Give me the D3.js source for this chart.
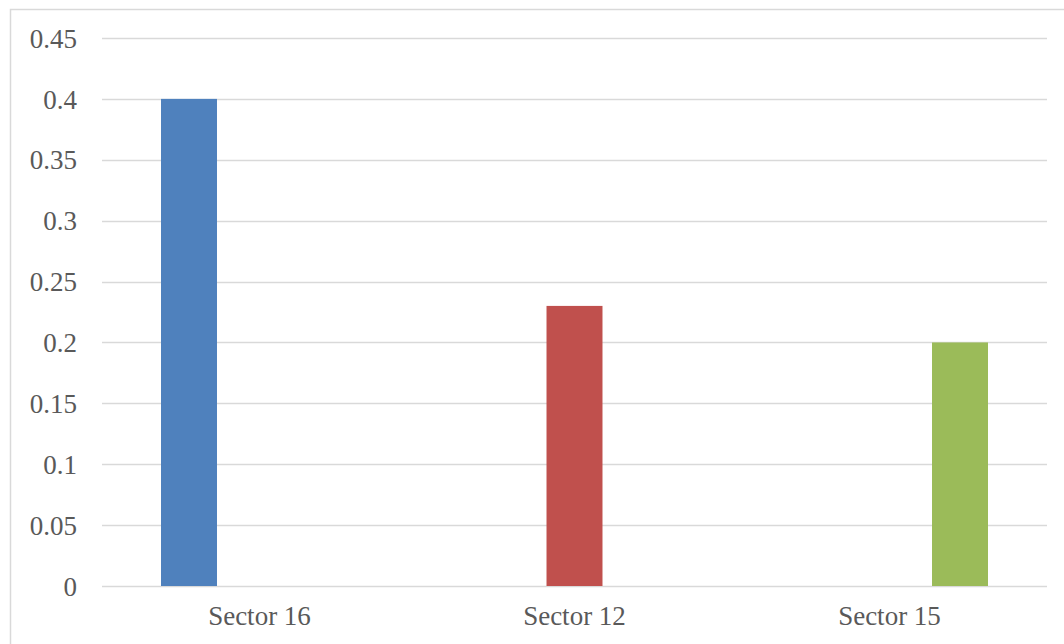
<!DOCTYPE html>
<html>
<head>
<meta charset="utf-8">
<script src="https://cdn.jsdelivr.net/npm/d3@7"></script>
<style>
  html, body { margin: 0; padding: 0; background: #fff; }
  svg { display: block; }
</style>
</head>
<body>
<svg id="chart" width="1064" height="644"></svg>
<script>
const categories = ["Sector 16", "Sector 12", "Sector 15"];
const seriesNames = ["Series A", "Series B", "Series C"];
const seriesA = [0.4, 0, 0];
const seriesB = [0, 0.23, 0];
const seriesC = [0, 0, 0.2];
const seriesColors = ["#4F81BD", "#C0504D", "#9BBB59"];
const yTicks = [0, 0.05, 0.1, 0.15, 0.2, 0.25, 0.3, 0.35, 0.4, 0.45];

const seriesValues = [seriesA, seriesB, seriesC];

const svg = d3.select("#chart");
const W = 1064, H = 644;
const plot = { left: 102, right: 1047, top: 38, bottom: 586 };

// chart border
svg.append("rect")
  .attr("x", 10.5).attr("y", 9.5)
  .attr("width", W + 20).attr("height", H + 20)
  .attr("fill", "#fff").attr("stroke", "#d9d9d9").attr("stroke-width", 1.5);

const y = d3.scaleLinear().domain([0, 0.45]).range([plot.bottom, plot.top]);
const x0 = d3.scaleBand().domain(categories).range([plot.left, plot.right]).padding(0);
const x1 = d3.scaleBand().domain(seriesNames).range([0, x0.bandwidth()])
  .paddingInner(0.206).paddingOuter(0.837);

// gridlines
svg.append("g").selectAll("line").data(yTicks).join("line")
  .attr("x1", plot.left).attr("x2", plot.right)
  .attr("y1", d => Math.round(y(d)) + 0.5).attr("y2", d => Math.round(y(d)) + 0.5)
  .attr("stroke", "#d9d9d9").attr("stroke-width", 1.5);

// y axis labels
const yAxis = d3.axisLeft(y).tickValues(yTicks).tickSize(0).tickPadding(0)
  .tickFormat(d => d3.format("~g")(d));
const gy = svg.append("g").attr("transform", `translate(77,0)`).call(yAxis);
gy.select(".domain").remove();
gy.selectAll("text")
  .attr("font-family", "'Liberation Serif', 'Times New Roman', serif")
  .attr("font-size", 27).attr("fill", "#595959").attr("dy", "0.34em");

// bars
const rows = categories.map((c, i) => ({
  cat: c,
  vals: seriesNames.map((s, j) => ({ s, j, v: seriesValues[j][i] }))
}));
svg.append("g").selectAll("g").data(rows).join("g")
  .attr("transform", d => `translate(${x0(d.cat)},0)`)
  .selectAll("rect").data(d => d.vals.filter(v => v.v > 0)).join("rect")
  .attr("x", d => x1(d.s)).attr("width", x1.bandwidth())
  .attr("y", d => y(d.v)).attr("height", d => y(0) - y(d.v))
  .attr("fill", d => seriesColors[d.j]);

// x axis labels
const xAxis = d3.axisBottom(x0).tickSize(0).tickPadding(0);
const gx = svg.append("g").attr("transform", `translate(0,${plot.bottom})`).call(xAxis);
gx.select(".domain").remove();
gx.selectAll("text")
  .attr("font-family", "'Liberation Serif', 'Times New Roman', serif")
  .attr("font-size", 27).attr("fill", "#595959").attr("dy", "1.45em");
</script>
</body>
</html>
